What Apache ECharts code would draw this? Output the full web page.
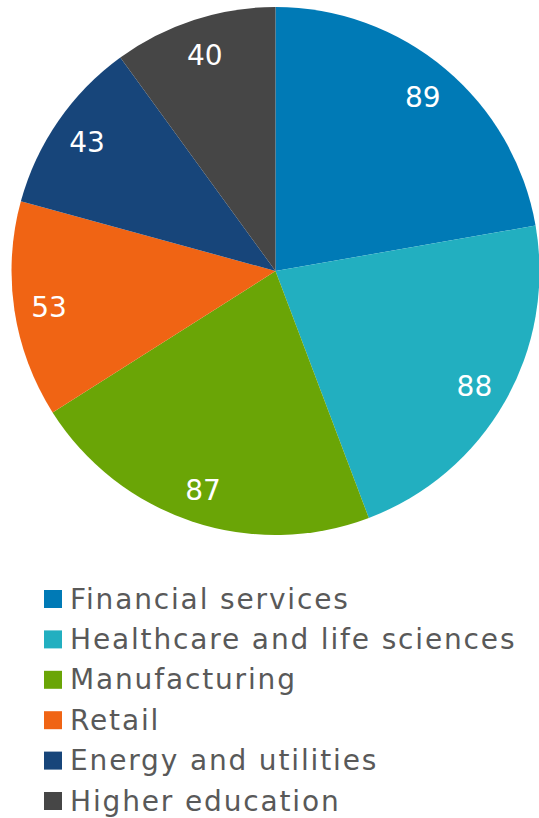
<!DOCTYPE html>
<html>
<head>
<meta charset="utf-8">
<script src="https://cdn.jsdelivr.net/npm/echarts@6/dist/echarts.min.js"></script>
<style>html,body{margin:0;padding:0;background:#fff;}#c{width:539px;height:818px;}</style>
</head>
<body>
<div id="c"></div>
<script>
var categories = ['Financial services','Healthcare and life sciences','Manufacturing','Retail','Energy and utilities','Higher education'];
var values = [89, 88, 87, 53, 43, 40];
var colors = ['#007AB6','#22AFC0','#6AA506','#F06414','#17457A','#464646'];

var data = categories.map(function(n,i){return {name:n, value:values[i], itemStyle:{color:colors[i]}};});
var labelData = categories.map(function(n,i){return {name:n, value:values[i]};});

var chart = echarts.init(document.getElementById('c'), null, {renderer:'svg'});
chart.setOption({
  animation:false,
  legend:{
    orient:'vertical', left:44, top:584, height:260, padding:0,
    icon:'rect', itemWidth:18, itemHeight:18, itemGap:10.4,
    data: categories,
    textStyle:{fontFamily:'DejaVu Sans', fontSize:28, color:'#595959', lineHeight:30, padding:[0,0,0,3]}
  },
  series:[
    {
      type:'pie', center:[275.5,271], radius:[0,264], startAngle:90, clockwise:true,
      label:{show:false}, labelLine:{show:false},
      itemStyle:{borderWidth:0},
      emphasis:{disabled:true},
      data:data
    },
    {
      type:'pie', center:[275.5,271], radius:[188,264], startAngle:90, clockwise:true, silent:true,
      itemStyle:{color:'rgba(0,0,0,0)', borderWidth:0},
      label:{show:true, position:'inside', formatter:'{c}', color:'#fff', fontFamily:'DejaVu Sans', fontSize:28, offset:[0,2]},
      labelLine:{show:false},
      emphasis:{disabled:true},
      data:labelData
    }
  ]
});
document.querySelectorAll('#c text').forEach(function(t){
  if (categories.indexOf(t.textContent) >= 0) t.style.letterSpacing = '1.85px';
});
</script>
</body>
</html>
